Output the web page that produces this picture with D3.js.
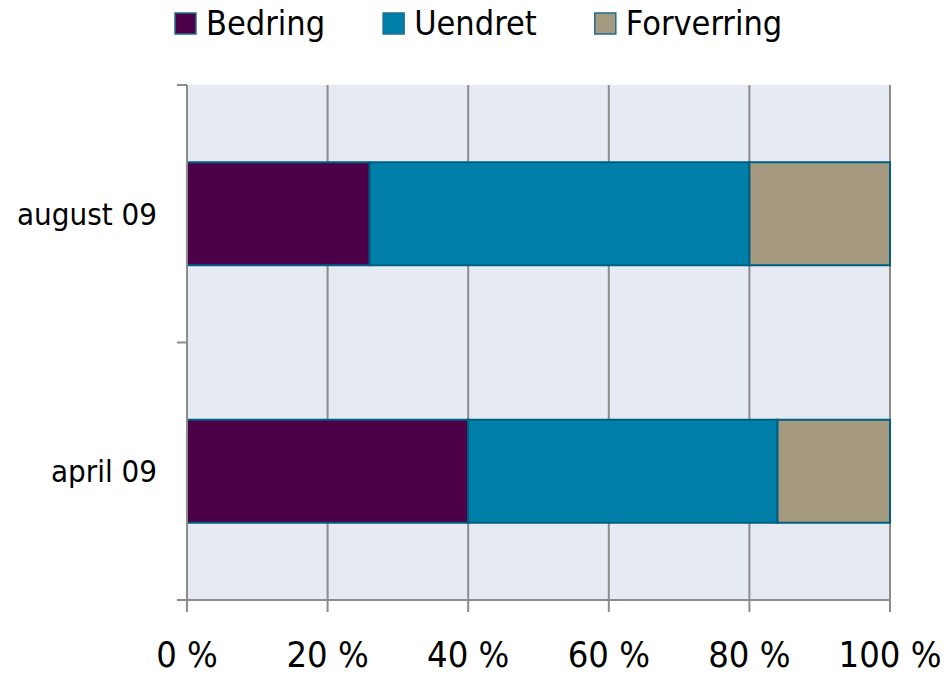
<!DOCTYPE html>
<html>
<head>
<meta charset="utf-8">
<script src="https://cdn.jsdelivr.net/npm/d3@7"></script>
<style>
  body { margin: 0; background: #fff; }
  text { font-family: "DejaVu Sans Condensed", "DejaVu Sans", sans-serif; fill: #000; }
</style>
</head>
<body>
<div id="chart"></div>
<script>
// Chart data
const categories = ["august 09", "april 09"];
const seriesNames = ["Bedring", "Uendret", "Forverring"];
const bedring = [26, 40];
const uendret = [54, 44];
const forverring = [20, 16];
const xTicks = [0, 20, 40, 60, 80, 100];

const colors = ["#4b0047", "#007fa8", "#a59a7f"];

// Dimensions
let w = 947, h = 676;
let margin = { top: 85, right: 57, bottom: 76, left: 187 };
let iw = w - margin.left - margin.right, ih = h - margin.top - margin.bottom;

let svg = d3.select("#chart").append("svg").attr("width", w).attr("height", h);
let g = svg.append("g").attr("transform", `translate(${margin.left},${margin.top})`);

// Scales
let x = d3.scaleLinear().domain([0, 100]).range([0, iw]);
let y = d3.scaleBand().domain(categories).range([0, ih]).paddingInner(0.6).paddingOuter(0.3);

// Plot background
g.append("rect").attr("width", iw).attr("height", ih).attr("fill", "#e6eaf3");

// Vertical grid lines
g.selectAll(".grid").data(xTicks.slice(1)).enter().append("line")
  .attr("x1", d => x(d)).attr("x2", d => x(d))
  .attr("y1", 0).attr("y2", ih)
  .attr("stroke", "#8c8c8c").attr("stroke-width", 2);

// Stack the series
let rows = categories.map((c, i) => ({ cat: c, Bedring: bedring[i], Uendret: uendret[i], Forverring: forverring[i] }));
let stacked = d3.stack().keys(seriesNames)(rows);

g.selectAll(".series").data(stacked).enter().append("g")
  .attr("fill", (d, i) => colors[i])
  .selectAll("rect").data(d => d).enter().append("rect")
  .attr("x", d => x(d[0]))
  .attr("width", d => x(d[1]) - x(d[0]))
  .attr("y", d => y(d.data.cat))
  .attr("height", y.bandwidth())
  .attr("stroke", "#005f80").attr("stroke-width", 2);

// Left axis: line with ticks at category boundaries
g.append("line").attr("x1", 0).attr("x2", 0).attr("y1", 0).attr("y2", ih)
  .attr("stroke", "#8c8c8c").attr("stroke-width", 2);
g.selectAll(".ytick").data([0, ih / 2, ih]).enter().append("line")
  .attr("x1", -10).attr("x2", 0).attr("y1", d => d).attr("y2", d => d)
  .attr("stroke", "#8c8c8c").attr("stroke-width", 2);

// Bottom axis
g.append("line").attr("x1", -10).attr("x2", iw).attr("y1", ih).attr("y2", ih)
  .attr("stroke", "#8c8c8c").attr("stroke-width", 2);
g.selectAll(".xtick").data(xTicks).enter().append("line")
  .attr("x1", d => x(d)).attr("x2", d => x(d)).attr("y1", ih).attr("y2", ih + 12)
  .attr("stroke", "#8c8c8c").attr("stroke-width", 2);
g.selectAll(".xlabel").data(xTicks).enter().append("text")
  .attr("x", d => x(d)).attr("y", ih + 67)
  .attr("text-anchor", "middle").style("font-size", "36px")
  .text(d => d + " %");

// Category labels
g.selectAll(".ylabel").data(categories).enter().append("text")
  .attr("x", -30).attr("y", d => y(d) + y.bandwidth() / 2)
  .attr("dy", "0.35em").attr("text-anchor", "end").style("font-size", "31px")
  .text(d => d);

// Legend
let lx = 175;
seriesNames.forEach((name, i) => {
  svg.append("rect").attr("x", lx).attr("y", 13).attr("width", 21).attr("height", 21)
    .attr("fill", colors[i]).attr("stroke", "#1f6e8c").attr("stroke-width", 1.5);
  let t = svg.append("text").attr("x", lx + 31).attr("y", 35)
    .style("font-size", "34px").text(name);
  lx += 31 + t.node().getComputedTextLength() + 58;
});
</script>
</body>
</html>
